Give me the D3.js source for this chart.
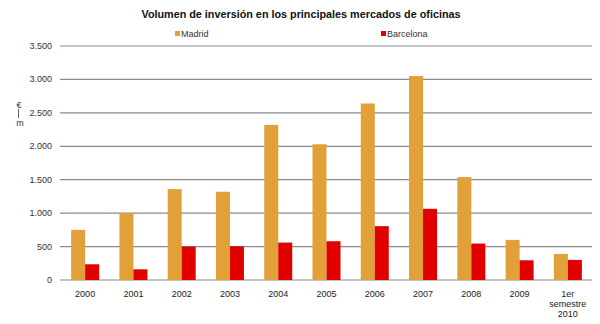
<!DOCTYPE html>
<html><head><meta charset="utf-8">
<script src="https://cdn.jsdelivr.net/npm/d3@7"></script>
<style>body{margin:0;background:#fff}svg{display:block;font-family:"Liberation Sans",Arial,sans-serif}</style>
</head><body>
<script>
const categories = ["2000","2001","2002","2003","2004","2005","2006","2007","2008","2009","1er semestre 2010"];
const madrid = [750,1000,1360,1320,2320,2030,2640,3050,1540,600,390];
const barcelona = [235,160,500,505,560,580,805,1065,545,295,300];
const seriesNames = ["Madrid","Barcelona"];
const colors = ["#E2A038","#E00000"];
const yTicks = [0,500,1000,1500,2000,2500,3000,3500];
const title = "Volumen de inversión en los principales mercados de oficinas";

const W=600,H=324;
const svg=d3.select("body").append("svg").attr("width",W).attr("height",H);
const x=d3.scaleBand().domain(categories).range([61,592]).paddingInner(0.42).paddingOuter(0.21);
const xs=d3.scaleBand().domain(seriesNames).range([0,x.bandwidth()]);
const y=d3.scaleLinear().domain([0,3500]).range([280,46]);
const fmt=v=>d3.format(",")(v).replace(/,/g,".");

svg.append("text").attr("x",301).attr("y",18).attr("text-anchor","middle")
  .attr("font-weight","bold").attr("font-size",10.8).attr("fill","#111").text(title);

// gridlines
svg.append("g").selectAll("line").data(yTicks).join("line")
  .attr("x1",60).attr("x2",592).attr("y1",d=>y(d)).attr("y2",d=>y(d))
  .attr("stroke","#8a8a8a").attr("stroke-width",1.2);
// y labels
svg.append("g").selectAll("text").data(yTicks).join("text")
  .attr("x",52).attr("y",d=>y(d)+3).attr("text-anchor","end")
  .attr("font-size",9).attr("fill","#333").text(fmt);

// y axis title
svg.append("text").attr("x",19).attr("y",108).attr("text-anchor","middle").attr("font-size",9).attr("fill","#333").text("€");
svg.append("line").attr("x1",18.5).attr("x2",18.5).attr("y1",109).attr("y2",118).attr("stroke","#667").attr("stroke-width",1);
svg.append("text").attr("x",20).attr("y",126).attr("text-anchor","middle").attr("font-size",9).attr("fill","#333").text("m");

// bars
const data=categories.map((c,i)=>({c,vals:[madrid[i],barcelona[i]]}));
const g=svg.append("g").selectAll("g").data(data).join("g").attr("transform",d=>`translate(${x(d.c)},0)`);
g.selectAll("rect").data(d=>d.vals.map((v,k)=>({v,k}))).join("rect")
  .attr("x",d=>xs(seriesNames[d.k])).attr("width",xs.bandwidth())
  .attr("y",d=>y(d.v)).attr("height",d=>y(0)-y(d.v)).attr("fill",d=>colors[d.k]);

// x labels
const xl=svg.append("g").selectAll("text").data(categories).join("text")
  .attr("x",d=>x(d)+x.bandwidth()/2).attr("y",297).attr("text-anchor","middle")
  .attr("font-size",9).attr("fill","#222");
xl.each(function(d){
  const t=d3.select(this);
  if(d.startsWith("1er")){
    const parts=["1er","semestre","2010"];
    parts.forEach((p,i)=>t.append("tspan").attr("x",x(d)+x.bandwidth()/2).attr("dy",i?10:0).text(p));
  } else t.text(d);
});

// legend
const leg=[{n:"Madrid",x:175},{n:"Barcelona",x:381}];
leg.forEach((l,i)=>{
  svg.append("rect").attr("x",l.x).attr("y",31).attr("width",5).attr("height",5).attr("fill",colors[i]);
  svg.append("text").attr("x",l.x+6).attr("y",37).attr("font-size",9).attr("fill","#333").text(l.n);
});
</script>
</body></html>
